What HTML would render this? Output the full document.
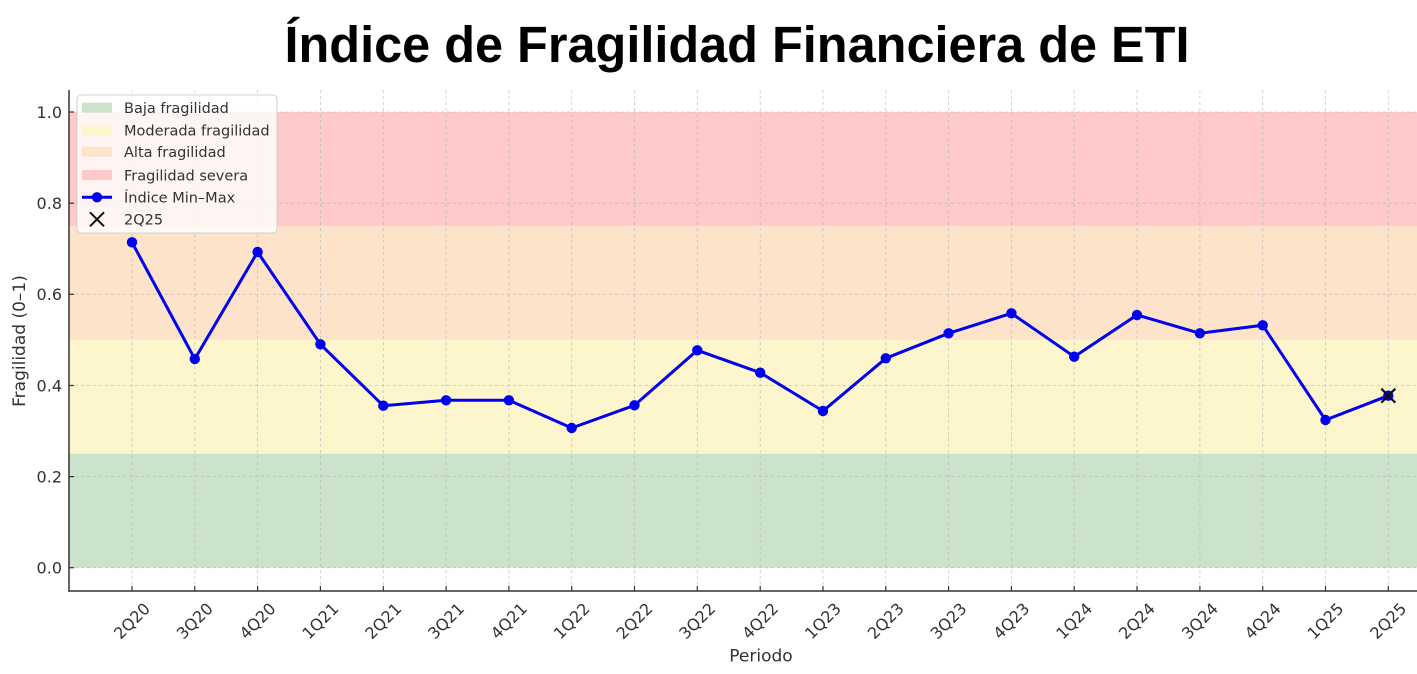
<!DOCTYPE html>
<html><head><meta charset="utf-8"><style>
html,body{margin:0;padding:0;background:#fff;}
svg{display:block;}
text{font-family:"DejaVu Sans","Liberation Sans",sans-serif;}
</style></head><body>
<svg width="1417" height="674" viewBox="0 0 1417 674" xmlns="http://www.w3.org/2000/svg">
<rect width="1417" height="674" fill="#fff"/>
<text x="737" y="62" text-anchor="middle" font-weight="bold" font-size="51" textLength="905" lengthAdjust="spacingAndGlyphs" fill="#000" style="font-family:'Liberation Sans',sans-serif">Índice de Fragilidad Financiera de ETI</text>

<!-- bands -->
<rect x="69" y="112" width="1348" height="113.9" fill="#fdc9c9"/>
<rect x="69" y="225.9" width="1348" height="114" fill="#fde3c9"/>
<rect x="69" y="339.9" width="1348" height="113.9" fill="#fdf5cb"/>
<rect x="69" y="453.8" width="1348" height="113.9" fill="#cce3cb"/>

<!-- grid -->
<g stroke="#b8b8b8" stroke-width="0.8" stroke-dasharray="3,3" opacity="0.8">
<line x1="69" x2="1417" y1="567.7" y2="567.7"/>
<line x1="69" x2="1417" y1="476.6" y2="476.6"/>
<line x1="69" x2="1417" y1="385.5" y2="385.5"/>
<line x1="69" x2="1417" y1="294.3" y2="294.3"/>
<line x1="69" x2="1417" y1="203.2" y2="203.2"/>
<line x1="69" x2="1417" y1="112" y2="112"/>
<line x1="132" x2="132" y1="90" y2="591"/>
<line x1="194.8" x2="194.8" y1="90" y2="591"/>
<line x1="257.6" x2="257.6" y1="90" y2="591"/>
<line x1="320.4" x2="320.4" y1="90" y2="591"/>
<line x1="383.3" x2="383.3" y1="90" y2="591"/>
<line x1="446.1" x2="446.1" y1="90" y2="591"/>
<line x1="508.9" x2="508.9" y1="90" y2="591"/>
<line x1="571.7" x2="571.7" y1="90" y2="591"/>
<line x1="634.5" x2="634.5" y1="90" y2="591"/>
<line x1="697.3" x2="697.3" y1="90" y2="591"/>
<line x1="760.2" x2="760.2" y1="90" y2="591"/>
<line x1="823" x2="823" y1="90" y2="591"/>
<line x1="885.8" x2="885.8" y1="90" y2="591"/>
<line x1="948.6" x2="948.6" y1="90" y2="591"/>
<line x1="1011.4" x2="1011.4" y1="90" y2="591"/>
<line x1="1074.2" x2="1074.2" y1="90" y2="591"/>
<line x1="1137" x2="1137" y1="90" y2="591"/>
<line x1="1199.9" x2="1199.9" y1="90" y2="591"/>
<line x1="1262.7" x2="1262.7" y1="90" y2="591"/>
<line x1="1325.5" x2="1325.5" y1="90" y2="591"/>
<line x1="1388.3" x2="1388.3" y1="90" y2="591"/>
</g>

<!-- series -->
<polyline fill="none" stroke="#0000ee" stroke-width="3" stroke-linejoin="round" points="132,242.3 194.8,359 257.6,252 320.4,344.3 383.3,405.7 446.1,400.3 508.9,400.3 571.7,428 634.5,405.3 697.3,350.3 760.2,372.7 823,411 885.8,358.3 948.6,333.3 1011.4,313.3 1074.2,356.7 1137,315 1199.9,333.3 1262.7,325.3 1325.5,420 1388.3,395.7"/>
<g fill="#0000f0">
<circle cx="132" cy="242.3" r="5.2"/>
<circle cx="194.8" cy="359" r="5.2"/>
<circle cx="257.6" cy="252" r="5.2"/>
<circle cx="320.4" cy="344.3" r="5.2"/>
<circle cx="383.3" cy="405.7" r="5.2"/>
<circle cx="446.1" cy="400.3" r="5.2"/>
<circle cx="508.9" cy="400.3" r="5.2"/>
<circle cx="571.7" cy="428" r="5.2"/>
<circle cx="634.5" cy="405.3" r="5.2"/>
<circle cx="697.3" cy="350.3" r="5.2"/>
<circle cx="760.2" cy="372.7" r="5.2"/>
<circle cx="823" cy="411" r="5.2"/>
<circle cx="885.8" cy="358.3" r="5.2"/>
<circle cx="948.6" cy="333.3" r="5.2"/>
<circle cx="1011.4" cy="313.3" r="5.2"/>
<circle cx="1074.2" cy="356.7" r="5.2"/>
<circle cx="1137" cy="315" r="5.2"/>
<circle cx="1199.9" cy="333.3" r="5.2"/>
<circle cx="1262.7" cy="325.3" r="5.2"/>
<circle cx="1325.5" cy="420" r="5.2"/>
<circle cx="1388.3" cy="395.7" r="5.2"/>
</g>
<g stroke="#111" stroke-width="2.2">
<line x1="1381.3" y1="388.7" x2="1395.3" y2="402.7"/>
<line x1="1381.3" y1="402.7" x2="1395.3" y2="388.7"/>
</g>

<!-- spines -->
<g stroke="#333" stroke-width="1.5">
<line x1="69" y1="90" x2="69" y2="591.7"/>
<line x1="68.3" y1="591" x2="1417" y2="591"/>
</g>
<!-- ticks -->
<g stroke="#333" stroke-width="1.2">
<line x1="69" x2="74" y1="567.7" y2="567.7"/>
<line x1="69" x2="74" y1="476.6" y2="476.6"/>
<line x1="69" x2="74" y1="385.5" y2="385.5"/>
<line x1="69" x2="74" y1="294.3" y2="294.3"/>
<line x1="69" x2="74" y1="203.2" y2="203.2"/>
<line x1="69" x2="74" y1="112" y2="112"/>
<line x1="132" x2="132" y1="591" y2="586"/>
<line x1="194.8" x2="194.8" y1="591" y2="586"/>
<line x1="257.6" x2="257.6" y1="591" y2="586"/>
<line x1="320.4" x2="320.4" y1="591" y2="586"/>
<line x1="383.3" x2="383.3" y1="591" y2="586"/>
<line x1="446.1" x2="446.1" y1="591" y2="586"/>
<line x1="508.9" x2="508.9" y1="591" y2="586"/>
<line x1="571.7" x2="571.7" y1="591" y2="586"/>
<line x1="634.5" x2="634.5" y1="591" y2="586"/>
<line x1="697.3" x2="697.3" y1="591" y2="586"/>
<line x1="760.2" x2="760.2" y1="591" y2="586"/>
<line x1="823" x2="823" y1="591" y2="586"/>
<line x1="885.8" x2="885.8" y1="591" y2="586"/>
<line x1="948.6" x2="948.6" y1="591" y2="586"/>
<line x1="1011.4" x2="1011.4" y1="591" y2="586"/>
<line x1="1074.2" x2="1074.2" y1="591" y2="586"/>
<line x1="1137" x2="1137" y1="591" y2="586"/>
<line x1="1199.9" x2="1199.9" y1="591" y2="586"/>
<line x1="1262.7" x2="1262.7" y1="591" y2="586"/>
<line x1="1325.5" x2="1325.5" y1="591" y2="586"/>
<line x1="1388.3" x2="1388.3" y1="591" y2="586"/>
</g>

<!-- y tick labels -->
<g font-size="16" fill="#333" text-anchor="end">
<text x="62" y="573.5">0.0</text>
<text x="62" y="482.4">0.2</text>
<text x="62" y="391.3">0.4</text>
<text x="62" y="300.1">0.6</text>
<text x="62" y="209">0.8</text>
<text x="62" y="117.8">1.0</text>
</g>

<!-- x tick labels -->
<g font-size="16" fill="#333" text-anchor="middle">
<text x="132" y="626.5" transform="rotate(-45 132 621)">2Q20</text>
<text x="194.8" y="626.5" transform="rotate(-45 194.8 621)">3Q20</text>
<text x="257.6" y="626.5" transform="rotate(-45 257.6 621)">4Q20</text>
<text x="320.4" y="626.5" transform="rotate(-45 320.4 621)">1Q21</text>
<text x="383.3" y="626.5" transform="rotate(-45 383.3 621)">2Q21</text>
<text x="446.1" y="626.5" transform="rotate(-45 446.1 621)">3Q21</text>
<text x="508.9" y="626.5" transform="rotate(-45 508.9 621)">4Q21</text>
<text x="571.7" y="626.5" transform="rotate(-45 571.7 621)">1Q22</text>
<text x="634.5" y="626.5" transform="rotate(-45 634.5 621)">2Q22</text>
<text x="697.3" y="626.5" transform="rotate(-45 697.3 621)">3Q22</text>
<text x="760.2" y="626.5" transform="rotate(-45 760.2 621)">4Q22</text>
<text x="823" y="626.5" transform="rotate(-45 823 621)">1Q23</text>
<text x="885.8" y="626.5" transform="rotate(-45 885.8 621)">2Q23</text>
<text x="948.6" y="626.5" transform="rotate(-45 948.6 621)">3Q23</text>
<text x="1011.4" y="626.5" transform="rotate(-45 1011.4 621)">4Q23</text>
<text x="1074.2" y="626.5" transform="rotate(-45 1074.2 621)">1Q24</text>
<text x="1137" y="626.5" transform="rotate(-45 1137 621)">2Q24</text>
<text x="1199.9" y="626.5" transform="rotate(-45 1199.9 621)">3Q24</text>
<text x="1262.7" y="626.5" transform="rotate(-45 1262.7 621)">4Q24</text>
<text x="1325.5" y="626.5" transform="rotate(-45 1325.5 621)">1Q25</text>
<text x="1388.3" y="626.5" transform="rotate(-45 1388.3 621)">2Q25</text>
</g>

<!-- axis labels -->
<text x="761" y="661.5" font-size="17" fill="#333" text-anchor="middle">Periodo</text>
<text x="0" y="0" font-size="17" fill="#333" text-anchor="middle" transform="translate(25 341) rotate(-90)">Fragilidad (0–1)</text>

<!-- legend -->
<rect x="77" y="95" width="200" height="138" rx="4" ry="4" fill="#fff" fill-opacity="0.8" stroke="#d0d0d0" stroke-width="1"/>
<rect x="82" y="102.7" width="30" height="10" fill="#cce3cb"/>
<rect x="82" y="125" width="30" height="10" fill="#fdf5cb"/>
<rect x="82" y="146.7" width="30" height="10" fill="#fde3c9"/>
<rect x="82" y="170" width="30" height="10" fill="#fdc9c9"/>
<line x1="82" x2="112" y1="197.3" y2="197.3" stroke="#0000ee" stroke-width="3"/>
<circle cx="97" cy="197.3" r="5.2" fill="#0000f0"/>
<g stroke="#111" stroke-width="2">
<line x1="90" y1="212.3" x2="104" y2="226.3"/>
<line x1="90" y1="226.3" x2="104" y2="212.3"/>
</g>
<g font-size="14.5" fill="#333">
<text x="124" y="113">Baja fragilidad</text>
<text x="124" y="135.3">Moderada fragilidad</text>
<text x="124" y="157">Alta fragilidad</text>
<text x="124" y="180.3">Fragilidad severa</text>
<text x="124" y="202.6">Índice Min–Max</text>
<text x="124" y="224.6">2Q25</text>
</g>
</svg>
</body></html>
